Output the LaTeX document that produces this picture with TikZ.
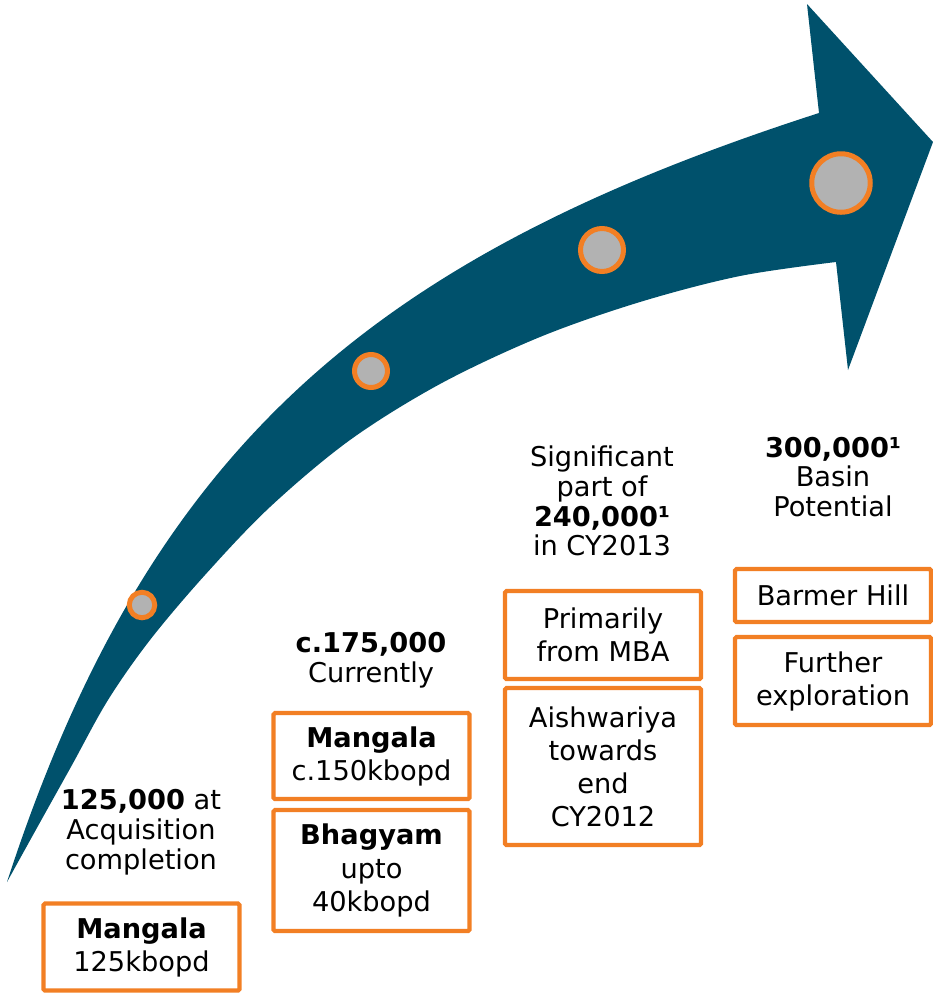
\documentclass[tikz,border=0pt]{standalone}
\usepackage{fontspec}
\setmainfont{DejaVu Sans}
\usepackage{xcolor}
\usepackage{tikz}
\usetikzlibrary{arrows.meta, calc, positioning, shapes}
\definecolor{Teal}{RGB}{0,81,108}
\definecolor{Orange}{RGB}{242,127,36}
\definecolor{Stone}{RGB}{178,178,178}

\tikzset{
  milestone/.style={circle, draw=Orange, fill=Stone, line width=1mm, inner sep=0pt},
  outbox/.style={draw=Orange, fill=white, line width=0.85mm, rounded corners=0.3mm,
    minimum width=39.2mm, inner sep=0pt, align=center,
    font=\fontsize{15.5}{18.8}\selectfont},
  caption/.style={align=center, inner sep=0pt, font=\fontsize{15.5}{17}\selectfont}
}

\begin{document}
\begin{tikzpicture}[x=0.2mm, y=-0.2mm]
  \useasboundingbox (0,0) rectangle (933,995);

  % the arrow
  \fill [Teal] (7,882) .. controls (150,443) and (376,256) .. (819,113)
    -- (807,4) -- (933,142) -- (848,370) -- (836,262)
    -- plot [smooth, tension=0.55] coordinates {(836,262) (740,276) (640,302)
      (540,337) (440,384) (350,440) (270,507) (205,575) (150,640)
      (108,700) (72,765) (38,826) (7,882)} -- cycle;

  \node [milestone, minimum size=5.1mm] (m1) at (142,605) {};
  \node [milestone, minimum size=6.6mm] (m2) at (371,371) {};
  \node [milestone, minimum size=8.6mm] (m3) at (602,250) {};
  \node [milestone, minimum size=11.7mm] (m4) at (841,183) {};

  \node [caption] (c1) at (141,832) {\textbf{125,000} at\\Acquisition\\completion};
  \node [caption] (c2) at (371,660) {\textbf{c.175,000}\\Currently};
  \node [caption] (c3) at (602,501) {Significant\\part of\\\textbf{240,000¹}\\in CY2013};
  \node [caption] (c4) at (833,477) {\textbf{300,000¹}\\Basin\\Potential};

  \node [outbox, minimum height=17.4mm] (b1) at (141.5,947) {\textbf{Mangala}\\125kbopd};
  \node [outbox, minimum height=17.2mm] (b2) at (371.5,756) {\textbf{Mangala}\\c.150kbopd};
  \node [outbox, minimum height=24.2mm] (b3) at (371.5,870.5) {\textbf{Bhagyam}\\upto\\40kbopd};
  \node [outbox, minimum height=17.6mm] (b4) at (603,635) {Primarily\\from MBA};
  \node [outbox, minimum height=31.4mm] (b5) at (603,766.5) {Aishwariya\\towards\\end\\CY2012};
  \node [outbox, minimum height=10.6mm] (b6) at (833,595.5) {Barmer Hill};
  \node [outbox, minimum height=17.6mm] (b7) at (833,681) {Further\\exploration};
\end{tikzpicture}
\end{document}
